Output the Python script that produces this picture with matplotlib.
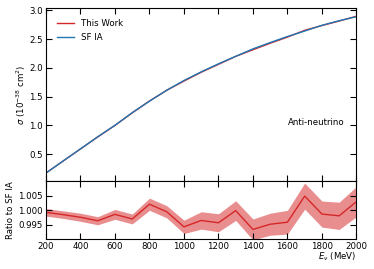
import matplotlib

matplotlib.use("Agg")
import matplotlib.pyplot as plt
import numpy as np

energy = [200, 300, 400, 500, 600, 700, 800, 900, 1000, 1100,
          1200, 1300, 1400, 1500, 1600, 1700, 1800, 1900, 2000]
sigma_sf_ia = [0.17, 0.38, 0.59, 0.80, 1.00, 1.22, 1.42, 1.61, 1.78, 1.93,
               2.07, 2.20, 2.33, 2.44, 2.545, 2.64, 2.74, 2.82, 2.89]
ratio = [0.9992, 0.9984, 0.9975, 0.9963, 0.9985, 0.9969, 1.0020, 0.9994, 0.9942, 0.9964,
         0.9956, 0.9998, 0.9933, 0.9951, 0.9958, 1.0048, 0.9986, 0.9980, 1.0029]
ratio_err = [0.0013, 0.0013, 0.0014, 0.0014, 0.0017, 0.0017, 0.0021, 0.0021, 0.0023, 0.0030,
             0.0031, 0.0034, 0.0036, 0.0038, 0.0041, 0.0045, 0.0045, 0.0047, 0.0052]

x_ticks = list(range(200, 2001, 200))

energy = np.array(energy)
sigma_sf_ia = np.array(sigma_sf_ia)
ratio = np.array(ratio)
ratio_err = np.array(ratio_err)
sigma_this_work = sigma_sf_ia * ratio

RED = "#d62728"
BLUE = "#1f77b4"
FONT = 6.2

plt.rcParams["font.size"] = FONT
fig = plt.figure(figsize=(3.74, 2.69), dpi=100)
ax_top = fig.add_axes([0.123, 0.327, 0.830, 0.643])
ax_bot = fig.add_axes([0.123, 0.1115, 0.830, 0.2155])

ax_top.plot(energy, sigma_this_work, color=RED, linewidth=1.0, label="This Work")
ax_top.plot(energy, sigma_sf_ia, color=BLUE, linewidth=1.0, label="SF IA")
ax_top.set_xlim(200, 2000)
ax_top.set_ylim(0.03, 3.04)
ax_top.set_xticks(x_ticks)
ax_top.set_xticklabels([])
ax_top.set_yticks([0.5, 1.0, 1.5, 2.0, 2.5, 3.0])
ax_top.set_ylabel(r"$\sigma$ ($10^{-38}$ cm$^2$)", labelpad=1)
ax_top.legend(loc="upper left", frameon=False, handlelength=2.0,
              borderaxespad=0.85, labelspacing=0.6, fontsize=FONT)
ax_top.text(0.963, 0.34, "Anti-neutrino", transform=ax_top.transAxes,
            ha="right", va="center", fontsize=FONT)

ax_bot.fill_between(energy, ratio - ratio_err, ratio + ratio_err,
                    color=RED, alpha=0.52, linewidth=0)
ax_bot.plot(energy, ratio, color=RED, linewidth=1.0)
ax_bot.set_xlim(200, 2000)
ax_bot.set_ylim(0.99, 1.01)
ax_bot.set_xticks(x_ticks)
ax_bot.set_yticks([0.995, 1.000, 1.005])
ax_bot.set_ylabel("Ratio to SF IA", labelpad=2.5)
ax_bot.set_xlabel(r"$E_\nu$ (MeV)", loc="right", labelpad=-0.5)

for ax in (ax_top, ax_bot):
    ax.tick_params(direction="in", top=True, right=True, length=4.5,
                   width=0.8, labelsize=FONT, pad=2.2)
    for spine in ax.spines.values():
        spine.set_linewidth(0.8)

fig.savefig("out.png", dpi=100)
